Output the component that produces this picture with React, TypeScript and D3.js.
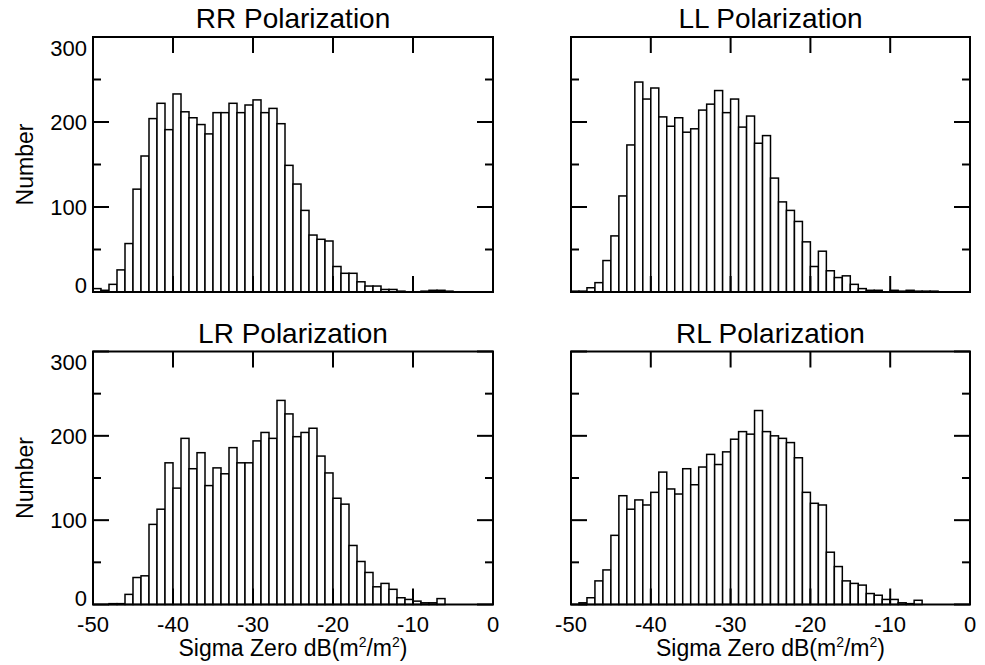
import React from "react";
import * as d3 from "d3";

// bins: 1 dB wide, starting at -50 dB (bin i covers [-50+i, -49+i])
const binStarts: number[] = d3.range(-50, 0, 1);

const rrCounts = [4, 2, 9, 26, 57, 121, 160, 204, 222, 191, 233, 212, 205, 197, 186, 211, 211, 222, 211, 220, 226, 211, 216, 198, 149, 127, 96, 67, 62, 60, 30, 22, 22, 12, 7, 7, 3, 3, 1, 0, 0, 1, 2, 2, 1, 0, 0, 0, 0, 0];
const llCounts = [1, 1, 5, 11, 37, 66, 113, 173, 247, 227, 240, 206, 195, 205, 188, 192, 214, 221, 237, 211, 227, 194, 207, 175, 184, 134, 106, 96, 83, 59, 30, 48, 25, 17, 19, 9, 4, 2, 2, 0, 2, 1, 2, 1, 1, 1, 0, 0, 0, 0];
const lrCounts = [0, 0, 1, 1, 12, 32, 34, 95, 113, 168, 138, 197, 161, 180, 141, 162, 155, 186, 168, 168, 194, 204, 197, 242, 226, 199, 204, 209, 176, 156, 126, 119, 70, 51, 38, 21, 25, 18, 8, 6, 4, 2, 2, 7, 0, 0, 0, 0, 0, 0];
const rlCounts = [0, 2, 8, 28, 41, 82, 129, 113, 124, 118, 133, 157, 137, 131, 161, 142, 163, 178, 166, 181, 196, 205, 202, 230, 205, 200, 197, 192, 174, 133, 120, 118, 62, 45, 28, 25, 23, 13, 11, 6, 6, 2, 1, 5, 0, 0, 0, 0, 0, 0];

const panelTitles = ["RR Polarization", "LL Polarization", "LR Polarization", "RL Polarization"];
const xTickValues = [-50, -40, -30, -20, -10, 0];
const yMajorTicks = [0, 100, 200, 300];
const yMinorTicks = [50, 150, 250];

const FONT = "'Liberation Sans', Arial, Helvetica, sans-serif";

interface PanelProps {
  title: string;
  counts: number[];
  x0: number;
  x1: number;
  yTop: number;
  yBot: number;
  showY: boolean;
  showX: boolean;
}

function Panel({ title, counts, x0, x1, yTop, yBot, showY, showX }: PanelProps) {
  const x = d3.scaleLinear().domain([-50, 0]).range([x0, x1]);
  const y = d3.scaleLinear().domain([0, 300]).range([yBot, yTop]);
  const cx = (x0 + x1) / 2;
  const cy = (yTop + yBot) / 2;
  const major = 16;
  const minor = 8;
  return (
    <g>
      <text x={cx} y={yTop - 9} textAnchor="middle" fontSize={28} fontFamily={FONT} fill="#000">
        {title}
      </text>
      {binStarts.map((b, i) =>
        counts[i] > 0 ? (
          <rect
            key={i}
            x={x(b)}
            y={y(counts[i])}
            width={x(b + 1) - x(b)}
            height={y(0) - y(counts[i])}
            fill="#fff"
            stroke="#000"
            strokeWidth={1.5}
          />
        ) : null
      )}
      {/* y ticks left & right */}
      {yMajorTicks.map((t) => (
        <g key={"ym" + t}>
          <line x1={x0} x2={x0 + major} y1={y(t)} y2={y(t)} stroke="#000" strokeWidth={2} />
          <line x1={x1} x2={x1 - major} y1={y(t)} y2={y(t)} stroke="#000" strokeWidth={2} />
        </g>
      ))}
      {yMinorTicks.map((t) => (
        <g key={"yn" + t}>
          <line x1={x0} x2={x0 + minor} y1={y(t)} y2={y(t)} stroke="#000" strokeWidth={2} />
          <line x1={x1} x2={x1 - minor} y1={y(t)} y2={y(t)} stroke="#000" strokeWidth={2} />
        </g>
      ))}
      {/* x ticks top & bottom */}
      {xTickValues.slice(1, -1).map((t) => (
        <g key={"xt" + t}>
          <line x1={x(t)} x2={x(t)} y1={yTop} y2={yTop + major} stroke="#000" strokeWidth={2} />
          <line x1={x(t)} x2={x(t)} y1={yBot} y2={yBot - major} stroke="#000" strokeWidth={2} />
        </g>
      ))}
      <rect x={x0} y={yTop} width={x1 - x0} height={yBot - yTop} fill="none" stroke="#000" strokeWidth={2} />
      {showY &&
        yMajorTicks.map((t) => {
          let by = y(t) + 8;
          if (t === 300) by = yTop + 18.5;
          if (t === 0) by = yBot + 1;
          return (
            <text key={"yl" + t} x={x0 - 6} y={by} textAnchor="end" fontSize={22} fontFamily={FONT} fill="#000">
              {String(t)}
            </text>
          );
        })}
      {showY && (
        <text
          transform={`translate(${x0 - 60},${cy}) rotate(-90)`}
          textAnchor="middle"
          fontSize={23}
          fontFamily={FONT}
          fill="#000"
        >
          Number
        </text>
      )}
      {showX &&
        xTickValues.map((t) => (
          <text key={"xl" + t} x={x(t)} y={yBot + 27} textAnchor="middle" fontSize={22} fontFamily={FONT} fill="#000">
            {String(t)}
          </text>
        ))}
      {showX && (
        <text x={cx} y={yBot + 51} textAnchor="middle" fontSize={23} fontFamily={FONT} fill="#000">
          Sigma Zero dB(m
          <tspan fontSize={14} dy={-9}>2</tspan>
          <tspan dy={9}>/m</tspan>
          <tspan fontSize={14} dy={-9}>2</tspan>
          <tspan dy={9}>)</tspan>
        </text>
      )}
    </g>
  );
}

export default function App() {
  const L = [93, 493];
  const R = [571, 970];
  const T = [37, 292];
  const B = [351.5, 604.5];
  return (
    <svg width={985} height={665} style={{ position: "absolute", left: 0, top: 0, background: "#fff" }}>
      <rect width={985} height={665} fill="#fff" />
      <Panel title={panelTitles[0]} counts={rrCounts} x0={L[0]} x1={L[1]} yTop={T[0]} yBot={T[1]} showY showX={false} />
      <Panel title={panelTitles[1]} counts={llCounts} x0={R[0]} x1={R[1]} yTop={T[0]} yBot={T[1]} showY={false} showX={false} />
      <Panel title={panelTitles[2]} counts={lrCounts} x0={L[0]} x1={L[1]} yTop={B[0]} yBot={B[1]} showY showX />
      <Panel title={panelTitles[3]} counts={rlCounts} x0={R[0]} x1={R[1]} yTop={B[0]} yBot={B[1]} showY={false} showX />
    </svg>
  );
}
